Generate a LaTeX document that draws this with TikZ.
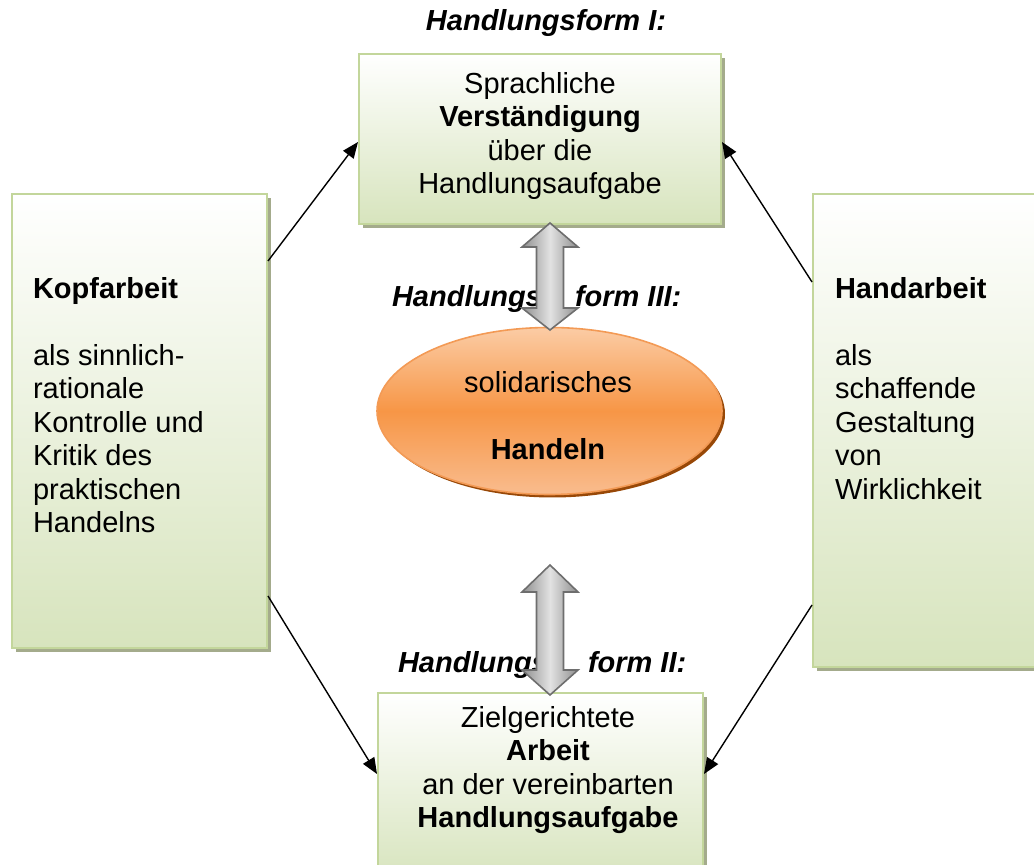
\documentclass[tikz,border=0pt]{standalone}
\usepackage{fontspec}
\setmainfont{Liberation Sans}
\usetikzlibrary{arrows.meta,calc,shapes.geometric,shadows}
\definecolor{boxgreen}{HTML}{D7E4BD}
\definecolor{boxborder}{HTML}{C3D69B}
\definecolor{boxshadow}{HTML}{A4AB8C}
\definecolor{elltop}{HTML}{FBCCA5}
\definecolor{ellmid}{HTML}{F79646}
\definecolor{ellbot}{HTML}{F9BC8E}
\definecolor{ellborder}{HTML}{F39A55}
\definecolor{ellshadow}{HTML}{984807}
\definecolor{arrgray}{HTML}{6E6E6E}
\definecolor{arrlight}{HTML}{E2E2E2}
\definecolor{arrdark}{HTML}{8E8E8E}
\begin{document}
\begin{tikzpicture}[x=0.5pt,y=-0.5pt,
  txt/.style={font=\fontsize{14.5pt}{16.75pt}\selectfont, inner sep=0pt, outer sep=0pt},
  box/.style={draw=boxborder, line width=1pt, top color=white, bottom color=boxgreen,
    inner sep=0pt, general shadow={fill=boxshadow, shadow xshift=2pt, shadow yshift=-2pt}},
  ell/.style={ellipse, draw=ellborder, line width=0.8pt, top color=elltop, bottom color=ellbot,
    middle color=ellmid, inner sep=0pt,
    general shadow={fill=ellshadow, shadow xshift=1.5pt, shadow yshift=-1.5pt}},
  conn/.style={-{Triangle[length=8pt,width=6.5pt]}, line width=0.7pt, black},
  dbl/.style={draw=arrgray, line width=0.8pt, left color=arrdark, right color=arrdark, middle color=arrlight}
]
\useasboundingbox (0,0) rectangle (1034,865);

% boxes
\node[box, minimum width=181pt, minimum height=85pt] (T) at (540,139) {};
\node[box, minimum width=127.5pt, minimum height=227pt] (L) at (139.5,421) {};
\node[box, minimum width=116pt, minimum height=236.5pt] (R) at (929,430.5) {};
\node[box, minimum width=162.5pt, minimum height=93.5pt] (B) at (540.5,786.5) {};
\node[ell, minimum width=172.5pt, minimum height=83.5pt] (E) at (549.5,411) {};

% texts
\node[txt, anchor=base] (title) at (546,31) {\textbf{\textit{Handlungsform I:}}};
\node[txt, anchor=north, align=center] (Tt) at (540,72)
  {Sprachliche\\\textbf{Verständigung}\\über die\\Handlungsaufgabe};
\node[txt, anchor=north west, align=left] (Lt) at (33,277)
  {\textbf{Kopfarbeit}\\[16.75pt]als sinnlich-\\rationale\\Kontrolle und\\Kritik des\\praktischen\\Handelns};
\node[txt, anchor=north west, align=left] (Rt) at (835,277)
  {\textbf{Handarbeit}\\[16.75pt]als\\schaffende\\Gestaltung\\von\\Wirklichkeit};
\node[txt, anchor=north, align=center] (Bt) at (548,706)
  {Zielgerichtete\\\textbf{Arbeit}\\an der vereinbarten\\\textbf{Handlungsaufgabe}};
\node[txt, anchor=north, align=center] (Et) at (548,371)
  {solidarisches\\[16.75pt]\textbf{Handeln}};

\node[txt, anchor=base west] (h3a) at (392,307) {\textbf{\textit{Handlungs}}};
\node[txt, anchor=base west] (h3b) at (575,307) {\textbf{\textit{form III:}}};
\node[txt, anchor=base west] (h2a) at (398,673) {\textbf{\textit{Handlungs}}};
\node[txt, anchor=base west] (h2b) at (588,673) {\textbf{\textit{form II:}}};

% connectors
\draw[conn] ($(L.north east)+(0,68)$) -- ($(T.north west)+(0,89)$);
\draw[conn] ($(R.north west)+(0,89)$) -- ($(T.north east)+(0,89)$);
\draw[conn] ($(L.north east)+(0,403)$) -- ($(B.north west)+(0,82)$);
\draw[conn] ($(R.north west)+(0,412)$) -- ($(B.north east)+(0,82)$);

% double arrows
\draw[dbl] (550,223) -- (578,247) -- (563.5,247) -- (563.5,308) -- (578,308) -- (550,330)
  -- (522,308) -- (536.5,308) -- (536.5,247) -- (522,247) -- cycle;
\draw[dbl] (550,565) -- (578,592) -- (563.5,592) -- (563.5,670) -- (578,670) -- (550,695)
  -- (522,670) -- (536.5,670) -- (536.5,592) -- (522,592) -- cycle;
\end{tikzpicture}
\end{document}
